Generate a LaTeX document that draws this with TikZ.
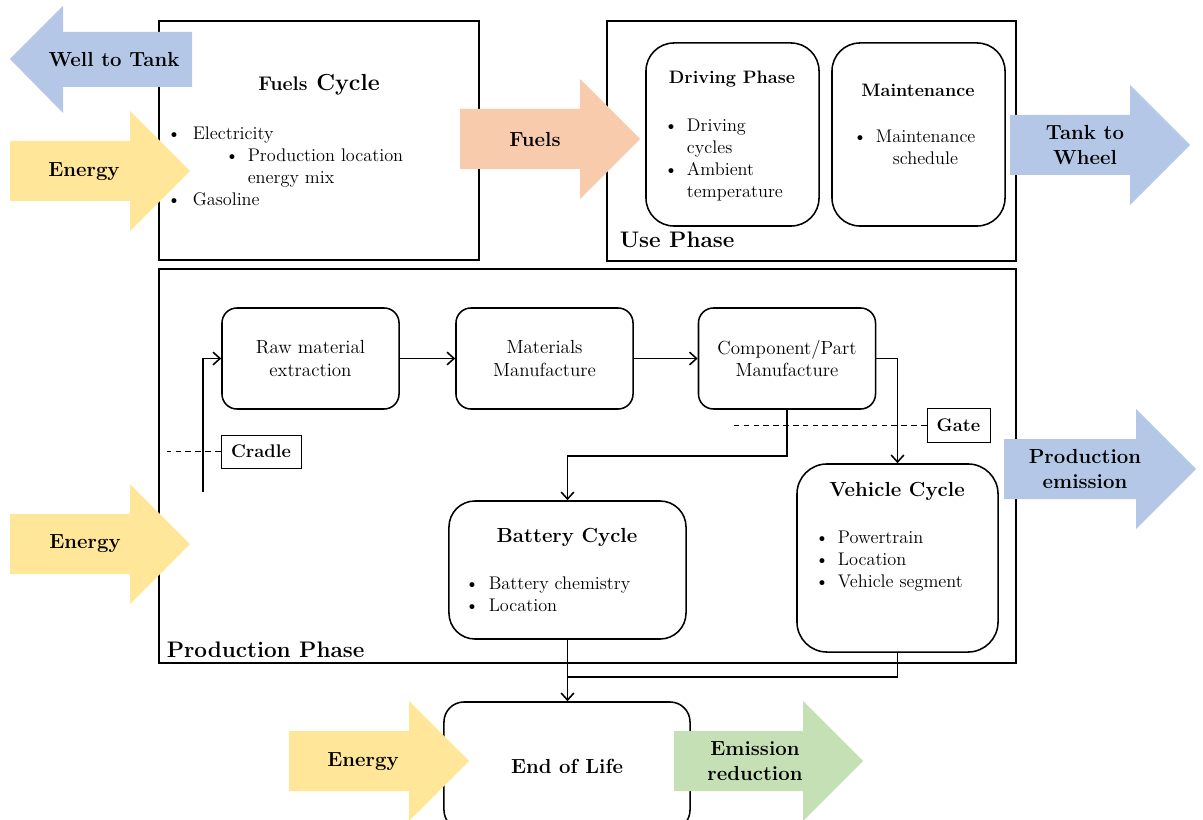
\documentclass[tikz,border=0pt]{standalone}
\usepackage{fontspec}
\usetikzlibrary{arrows.meta,positioning}

\definecolor{wellblue}{HTML}{B4C7E7}
\definecolor{energyyellow}{HTML}{FFE699}
\definecolor{fuelorange}{HTML}{F8CBAD}
\definecolor{emisgreen}{HTML}{C5E0B4}

% block arrow to the right: colour, tail x, centre y, shaft length
\newcommand{\fatarrow}[4]{%
  \fill[#1] (#2,#3-30) -- (#2+#4,#3-30) -- (#2+#4,#3-60) -- (#2+#4+60,#3)
    -- (#2+#4,#3+60) -- (#2+#4,#3+30) -- (#2,#3+30) -- cycle;}
% bullet of a list
\newcommand{\bitem}[1][0.57cm]{\makebox[#1][l]{\textbullet}}

\begin{document}
\begin{tikzpicture}[x=0.025cm,y=-0.025cm,
  >={Straight Barb[length=5pt,width=9pt]},
  line width=1.1pt,
  every node/.style={inner sep=0pt},
  body/.style={font=\fontsize{13}{15.6}\selectfont},
  head/.style={font=\bfseries\fontsize{14.5}{18}\selectfont},
  subhead/.style={font=\bfseries\fontsize{12.8}{15}\selectfont},
  stepbox/.style={draw,rounded corners=0.375cm,minimum width=4.425cm,
    minimum height=2.525cm,align=center,font=\fontsize{13.5}{16.2}\selectfont},
  roundbox/.style={draw,rounded corners=#1},
  tagbox/.style={draw,fill=white,line width=0.7pt,
    font=\bfseries\fontsize{13}{15.6}\selectfont},
  dashline/.style={line width=0.7pt,dash pattern=on 4pt off 3pt},
  arrowlabel/.style={align=center,font=\bfseries\fontsize{14.5}{17.8}\selectfont},
  listtext/.style={align=left,anchor=north west,body}]

\useasboundingbox (0,0) rectangle (1203,820);

% phase frames
\draw (159,21) rectangle (479,260);
\draw (607,21) rectangle (1016,261);
\draw (159,269) rectangle (1016,663);

% fuels cycle
\node[font=\bfseries\fontsize{16.5}{19}\selectfont] (fueltitle) at (319,85) {{\fontsize{14}{16}\selectfont Fuels} Cycle};
\node[listtext] (fuellist) at (166.4,126.3) {\bitem[0.64cm]Electricity\\
  \hspace*{1.45cm}\bitem[0.565cm]Production location\\
  \hspace*{2.015cm}energy mix\\
  \bitem[0.64cm]Gasoline};

% use phase
\node[roundbox=0.7cm,minimum width=4.325cm,minimum height=4.575cm] (driving) at (732.5,134.5) {};
\node[roundbox=0.7cm,minimum width=4.325cm,minimum height=4.575cm] (maint) at (918.5,134.5) {};
\node[subhead] (drivetitle) at (732,79) {Driving Phase};
\node[subhead] (mainttitle) at (918,90) {Maintenance};
\node[listtext] (drivelist) at (663.4,118) {\bitem Driving\\
  \hspace*{0.57cm}cycles\\
  \bitem Ambient\\
  \hspace*{0.57cm}temperature};
\node[listtext] (maintlist) at (852.4,129) {\bitem Maintenance\\
  \hspace*{0.99cm}schedule};
\node[anchor=base west,font=\bfseries\fontsize{16}{19}\selectfont] (usetitle) at (619,248) {Use Phase};

% production phase
\node[stepbox] (raw) at (310.5,358.5) {Raw material\\extraction};
\node[stepbox] (mat) at (544.5,358.5) {Materials\\Manufacture};
\node[stepbox] (comp) at (787,358.5) {Component/Part\\Manufacture};

\node[roundbox=0.75cm,minimum width=5.025cm,minimum height=4.7cm] (vehicle) at (897.5,558) {};
\node[head] (vehtitle) at (897,491) {Vehicle Cycle};
\node[listtext] (vehlist) at (814.4,530.5) {\bitem Powertrain\\
  \bitem Location\\
  \bitem Vehicle segment};

\node[roundbox=0.65cm,minimum width=5.925cm,minimum height=3.45cm] (battery) at (567.5,570) {};
\node[head] (battitle) at (567,537) {Battery Cycle};
\node[listtext] (batlist) at (464.4,576.5) {\bitem[0.59cm]Battery chemistry\\
  \bitem[0.59cm]Location};

\node[anchor=base west,font=\bfseries\fontsize{16}{19}\selectfont] (prodtitle) at (166,657) {Production Phase};

\node[roundbox=0.5cm,minimum width=6.15cm,minimum height=3.2cm,head] (eol) at (567,766) {End of Life};

% cradle and gate
\node[tagbox,minimum width=2cm,minimum height=0.825cm] (cradle) at (261,451.5) {Cradle};
\node[tagbox,minimum width=1.575cm,minimum height=0.85cm] (gate) at (958.5,425) {Gate};
\coordinate (cradleend) at (167,451.5);
\coordinate (gateend) at (732,425);
\draw[dashline] (cradle.west) -- (cradleend);
\draw[dashline] (gate.west) -- (gateend);

% flows
\coordinate (cradlefoot) at (203,492);
\draw[->] (cradlefoot) |- (raw.west);
\draw[->] (raw) -- (mat);
\draw[->] (mat) -- (comp);
\draw[->] (comp.east) -| (vehicle.north);
\draw[->] (comp.south) -- ++(0,46) -| (battery.north);
\draw[->] (battery.south) -- (battery.south |- eol.north);
\coordinate (merge) at (567.5,677);
\draw (vehicle.south) |- (merge);

% block arrows
\fill[wellblue] (10,59) -- (63,6) -- (63,32) -- (192,32) -- (192,87) -- (63,87) -- (63,113) -- cycle;
\fatarrow{energyyellow}{10}{171}{120}
\fatarrow{fuelorange}{460}{139}{120}
\fatarrow{wellblue}{1010}{145}{120}
\fatarrow{energyyellow}{10}{544}{120}
\fatarrow{wellblue}{1004}{469}{132}
\fatarrow{energyyellow}{289}{761}{120}
\fatarrow{emisgreen}{674}{761}{129}

\node[arrowlabel] (welltank) at (114,60) {Well to Tank};
\node[arrowlabel] (energyfuel) at (84,172) {Energy};
\node[arrowlabel] (fuels) at (535,139) {Fuels};
\node[arrowlabel] (tankwheel) at (1085,145) {Tank to\\Wheel};
\node[arrowlabel] (energyprod) at (85,544) {Energy};
\node[arrowlabel] (prodemis) at (1085,469) {Production\\emission};
\node[arrowlabel] (energyeol) at (363,762) {Energy};
\node[arrowlabel] (emisred) at (755,761) {Emission\\reduction};

\end{tikzpicture}
\end{document}
